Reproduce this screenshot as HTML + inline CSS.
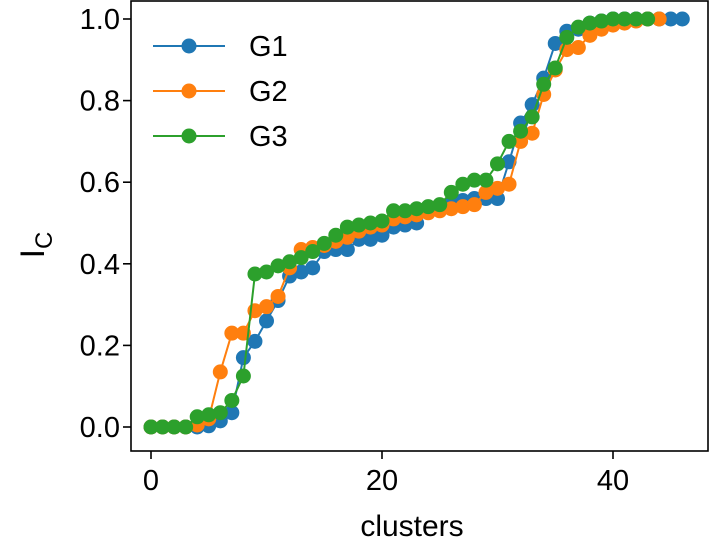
<!DOCTYPE html>
<html><head><meta charset="utf-8"><style>
body{margin:0;background:#fff;}
svg text{font-family:"Liberation Sans",sans-serif;fill:#000;}
</style></head><body>
<svg width="710" height="539" viewBox="0 0 710 539">
<g id="plot"></g>
<rect x="131" y="1" width="577" height="450" fill="none" stroke="#000" stroke-width="1.6"/>
<g id="ticks"></g>
<text x="412" y="536" font-size="30" text-anchor="middle">clusters</text>
<text transform="translate(44,245) rotate(-90)" font-size="34" text-anchor="middle">I<tspan font-size="24" dy="8">C</tspan></text>
<g id="legend"></g>
</svg>
<script>
const seriesNames=["G1","G2","G3"];
const colors=["#1f77b4","#ff7f0e","#2ca02c"];
const g1=[0,0,0,0,0,0.003,0.015,0.035,0.17,0.21,0.26,0.31,0.37,0.38,0.39,0.43,0.435,0.435,0.46,0.46,0.47,0.49,0.495,0.50,0.53,0.535,0.55,0.555,0.56,0.56,0.56,0.65,0.745,0.79,0.855,0.94,0.97,0.975,0.99,0.995,1.0,1.0,1.0,1.0,1.0,1.0,1.0];
const g2=[0,0,0,0,0.005,0.02,0.135,0.23,0.23,0.285,0.295,0.32,0.39,0.435,0.44,0.445,0.455,0.465,0.48,0.49,0.495,0.51,0.515,0.52,0.525,0.53,0.535,0.54,0.545,0.575,0.585,0.595,0.70,0.72,0.815,0.875,0.925,0.93,0.96,0.975,0.985,0.99,0.995,1.0,1.0];
const g3=[0,0,0,0,0.025,0.03,0.035,0.065,0.125,0.375,0.38,0.395,0.405,0.415,0.43,0.45,0.47,0.49,0.495,0.50,0.505,0.53,0.53,0.535,0.54,0.545,0.575,0.595,0.605,0.605,0.645,0.70,0.725,0.76,0.84,0.88,0.955,0.98,0.99,0.995,1.0,1.0,1.0,1.0];
const xTicks=[0,20,40];
const yTicks=[0.0,0.2,0.4,0.6,0.8,1.0];
const yTickLabels=["0.0","0.2","0.4","0.6","0.8","1.0"];
const X=v=>151+v*11.55;
const Y=v=>427-v*408;
const NS="http://www.w3.org/2000/svg";
function mk(t,a,p){const e=document.createElementNS(NS,t);for(const k in a)e.setAttribute(k,a[k]);p.appendChild(e);return e;}
const plot=document.getElementById('plot');
[g1,g2,g3].forEach((d,s)=>{
  const g=mk('g',{},plot);
  
  
  const pl=mk('polyline',{points:d.map((v,i)=>X(i)+','+Y(v)).join(' '),fill:'none',stroke:colors[s],'stroke-width':2},g);
  
  
  d.forEach((v,i)=>{const c=mk('circle',{cx:X(i),cy:Y(v),r:7.5,fill:colors[s]},g);
    
    });
});
const tk=document.getElementById('ticks');
xTicks.forEach(v=>{mk('line',{x1:X(v),x2:X(v),y1:451,y2:459,stroke:'#000','stroke-width':1.6},tk);
  const t=mk('text',{x:X(v),y:490,'font-size':29,'text-anchor':'middle'},tk);t.textContent=v;
  
  });
yTicks.forEach((v,i)=>{mk('line',{x1:123,x2:131,y1:Y(v),y2:Y(v),stroke:'#000','stroke-width':1.6},tk);
  const t=mk('text',{x:120,y:Y(v)+10,'font-size':29,'text-anchor':'end'},tk);t.textContent=yTickLabels[i];
  
  });
const lg=document.getElementById('legend');
seriesNames.forEach((n,s)=>{const y=46+s*45;
  const g=mk('g',{},lg);
  
  
  mk('line',{x1:153,x2:225,y1:y,y2:y,stroke:colors[s],'stroke-width':2},g);
  mk('circle',{cx:189,cy:y,r:7.5,fill:colors[s]},g);
  const t=mk('text',{x:249,y:y+10,'font-size':29},g);t.textContent=n;});
</script>
</body></html>
